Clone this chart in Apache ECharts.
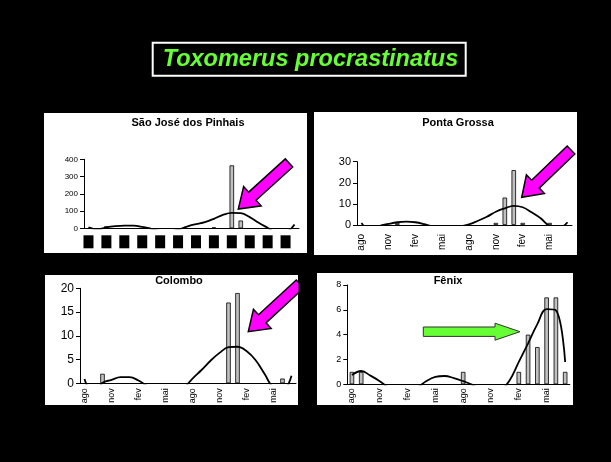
<!DOCTYPE html>
<html><head><meta charset="utf-8">
<script src="https://cdn.jsdelivr.net/npm/echarts@6/dist/echarts.min.js"></script>
<style>html,body{margin:0;padding:0;background:#000}#c{width:611px;height:462px}</style>
</head><body><div id="c"></div>
<script>
// ---- data ----
const months = ['ago','set','out','nov','dez','jan','fev','mar','abr','mai','jun','jul',
                'ago','set','out','nov','dez','jan','fev','mar','abr','mai','jun','jul'];
const mainTitle = 'Toxomerus procrastinatus';
const panelTitles = ['São José dos Pinhais', 'Ponta Grossa', 'Colombo', 'Fênix'];

const sjBars  = [0,0,12,0,0,0,0,0,0,0,0,0,0,0,5,0,365,45,0,0,0,0,0,0];
const sjCurve = [6,-6,6,13,16,15,8,-3,-15,-18,-8,10,24,36,55,78,90,88,65,32,3,-25,-22,22];

const pgBars  = [0,0,0,0,1,0,0,0,0,0,0,0,0,0,0,1,13,26,1,0,0,1,0,0];
const pgCurve = [1.0,-2.6,-0.5,0.5,1.3,1.6,1.3,0.4,-0.8,-1.6,-1.6,-0.7,0.3,2.0,3.9,6.3,7.9,9.1,8.4,6.0,3.2,-0.5,-1.5,1.3];

const coBars  = [0,0,2,0,0,0,0,0,0,0,0,0,0,0,0,0,17,19,0,0,0,0,1,0];
const coCurve = [0.9,-2.4,0.1,0.7,1.3,1.3,0.6,-0.6,-1.5,-2.0,-1.8,-1.0,1.0,2.8,4.75,6.4,7.6,7.7,6.8,4.9,2.0,-1.0,-1.6,1.6];

const fxBars  = [1,1,0,0,0,0,0,0,0,0,0,0,1,0,0,0,0,0,1,4,3,7,7,1];
const fxCurve = [0.75,1.07,0.7,0.25,-0.3,-0.6,-0.6,-0.3,0.25,0.6,0.67,0.5,0.25,-0.05,-0.5,-0.7,-0.5,0.3,1.8,3.3,4.85,6.05,5.95,1.8];

const yMax = [400, 30, 20, 8];
const yStep = [100, 10, 5, 2];

// ---- layout ----
const FF = 'Liberation Sans, Arial, sans-serif';
const grids = [
  {left: 84, top: 159.3, width: 215, height: 69},
  {left: 357, top: 161.7, width: 215, height: 63.3},
  {left: 80, top: 288.3, width: 216, height: 95},
  {left: 347.3, top: 285, width: 222.5, height: 99.3}
];
const yFont = [8, 11, 12, 9];
const xFont = [10, 10, 9, 9];
const xMargin = [7, 9, 5, 4];
const panels = [[44,113,263,140],[314,112,263,143],[45,275,253,130],[317,273,256,132]];
const titlePos = [[188,123],[458,123],[179,281],[448,281]];

const xAxes = grids.map((g, i) => ({
  type: 'category', gridIndex: i, data: months,
  axisLine: {lineStyle: {color: '#000', width: 1}},
  axisTick: {interval: 0, length: 4, lineStyle: {color: '#000'}},
  axisLabel: i === 0 ? {
      interval: 1, margin: xMargin[i],
      formatter: () => '{b| }',
      rich: {b: {width: 10, height: 13, backgroundColor: '#000'}}
    } : {
      interval: 2, rotate: 90, fontSize: xFont[i], color: '#000',
      margin: xMargin[i], fontFamily: FF
    }
}));
const yAxes = grids.map((g, i) => ({
  type: 'value', gridIndex: i, min: 0, max: yMax[i], interval: yStep[i],
  splitLine: {show: false},
  axisLine: {show: true, lineStyle: {color: '#000', width: 1}},
  axisTick: {show: true, length: 4, lineStyle: {color: '#000'}},
  axisLabel: {fontSize: yFont[i], color: '#000', margin: 6, fontFamily: FF}
}));

const barSets = [sjBars, pgBars, coBars, fxBars];
const curveSets = [sjCurve, pgCurve, coCurve, fxCurve];
const series = [];
barSets.forEach((d, i) => series.push({
  type: 'bar', xAxisIndex: i, yAxisIndex: i, data: d.map(v => v === 0 ? '-' : v), barWidth: 4.5,
  itemStyle: {color: '#c0c0c0', borderColor: '#000', borderWidth: 0.8}
}));
curveSets.forEach((d, i) => series.push({
  type: 'line', xAxisIndex: i, yAxisIndex: i, data: d, smooth: 0.4,
  showSymbol: false, clip: true, lineStyle: {color: '#000', width: 1.8}, z: 5
}));

function arrowPts(tx, ty, hx, hy, sw, hw, hl) {
  const dx = hx - tx, dy = hy - ty, L = Math.hypot(dx, dy);
  const ux = dx / L, uy = dy / L, px = -uy, py = ux;
  const bx = hx - ux * hl, by = hy - uy * hl;
  return [[tx + px*sw, ty + py*sw], [bx + px*sw, by + py*sw], [bx + px*hw, by + py*hw],
          [hx, hy], [bx - px*hw, by - py*hw], [bx - px*sw, by - py*sw], [tx - px*sw, ty - py*sw]];
}
const graphics = [];
panels.forEach(p => graphics.push({type: 'rect', shape: {x: p[0], y: p[1], width: p[2], height: p[3]},
  style: {fill: '#fff'}, z: -10, silent: true}));
panelTitles.forEach((t, i) => graphics.push({type: 'text', x: titlePos[i][0], y: titlePos[i][1], z: 50,
  style: {text: t, font: 'bold 11px ' + FF, fill: '#000', align: 'center', verticalAlign: 'middle'}}));
const mag = {fill: '#ff00ff', stroke: '#000', lineWidth: 1.5};
[[289,163,238.3,209],[571,150,521.7,197.3],[300,284,248.3,331.7]].forEach(a =>
  graphics.push({type: 'polygon', z: 60, shape: {points: arrowPts(a[0],a[1],a[2],a[3],5.5,13,19)}, style: mag}));
graphics.push({type: 'rect', z: 70, shape: {x: 298.5, y: 270, width: 14, height: 40}, style: {fill: '#000'}});
graphics.push({type: 'polygon', z: 60, shape: {points: arrowPts(423.3,331.7,520,331.7,4.7,8.5,25)},
  style: {fill: '#66ff33', stroke: '#333', lineWidth: 1}});

const chart = echarts.init(document.getElementById('c'), null, {renderer: 'canvas'});
chart.setOption({
  backgroundColor: '#000',
  animation: false,
  title: [{
    text: mainTitle, left: 152.7, top: 42.7,
    borderColor: '#fff', borderWidth: 2, padding: [4, 8, 4, 10],
    textStyle: {color: '#66ff33', fontStyle: 'italic', fontWeight: 'bold', fontSize: 23.5,
                fontFamily: FF, lineHeight: 25}
  }],
  grid: grids,
  xAxis: xAxes,
  yAxis: yAxes,
  series: series,
  graphic: graphics
});
</script></body></html>
